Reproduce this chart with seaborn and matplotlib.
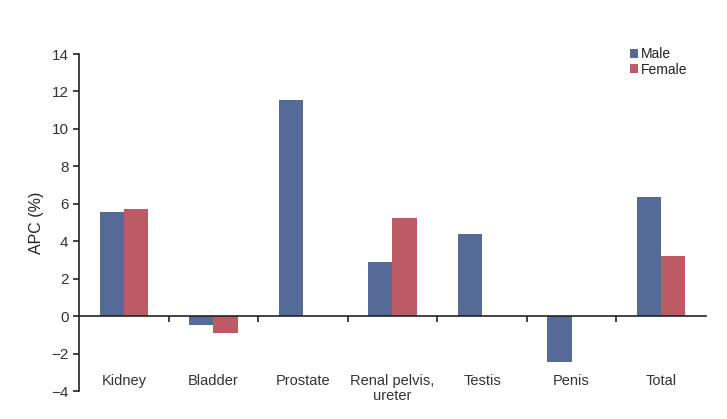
import numpy as np
import pandas as pd
import matplotlib
matplotlib.use("Agg")
import matplotlib.pyplot as plt
import seaborn as sns

# APC (%) by site and sex
sites = ["Kidney", "Bladder", "Prostate", "Renal pelvis,\nureter", "Testis", "Penis", "Total"]
male = [5.56, -0.48, 11.55, 2.9, 4.38, -2.46, 6.36]
female = [5.72, -0.9, np.nan, 5.24, np.nan, np.nan, 3.21]

df = pd.DataFrame({
    "Site": sites * 2,
    "APC": male + female,
    "Sex": ["Male"] * len(sites) + ["Female"] * len(sites),
})

sns.set_style("white")
plt.rcParams["font.family"] = ["Liberation Sans", "DejaVu Sans"]

fig = plt.figure(figsize=(7.27, 4.19), dpi=100)
ax = fig.add_axes([0.1087, 0.0668, 0.8623, 0.8042])

sns.barplot(data=df, x="Site", y="APC", hue="Sex", order=sites,
            palette={"Male": "#556A97", "Female": "#BD5B64"},
            width=0.54, saturation=1, ax=ax, linewidth=0)

ax.set_ylim(-4, 14)
ax.set_xlim(-0.5, len(sites) - 0.5)
ax.set_yticks(range(-4, 15, 2))
ax.set_yticklabels([str(v).replace("-", "\u2212") for v in range(-4, 15, 2)])
ax.tick_params(axis="y", left=True, direction="out", length=4, width=1.2,
               labelsize=11, color="#222222", labelcolor="#333333")

# x axis sits at zero, ticks at category boundaries, labels low
ax.spines["bottom"].set_position(("data", 0))
ax.spines["bottom"].set_linewidth(1.2)
ax.spines["left"].set_linewidth(1.2)
ax.spines["bottom"].set_color("#222222")
ax.spines["left"].set_color("#222222")
ax.spines["top"].set_visible(False)
ax.spines["right"].set_visible(False)
ax.set_xticks(np.arange(0.5, len(sites) - 0.5, 1))
ax.set_xticklabels([])
ax.tick_params(axis="x", which="major", bottom=True, direction="out", length=4,
               width=1.2, color="#222222")
ax.set_xticks(range(len(sites)), minor=True)
ax.set_xticklabels(sites, minor=True, fontsize=10.5, linespacing=1.05, color="#333333")
ax.tick_params(axis="x", which="minor", bottom=True, length=0, pad=42)

ax.set_xlabel("")
ax.set_ylabel("APC (%)", fontsize=11.5, labelpad=5, color="#222222")

leg = ax.legend(loc="upper right", bbox_to_anchor=(0.99, 1.057), frameon=False,
                fontsize=10, handlelength=0.6, handleheight=0.6, handletextpad=0.2,
                labelspacing=0.1)
for t in leg.get_texts():
    t.set_color("#222222")

fig.savefig("out.png", dpi=100)
